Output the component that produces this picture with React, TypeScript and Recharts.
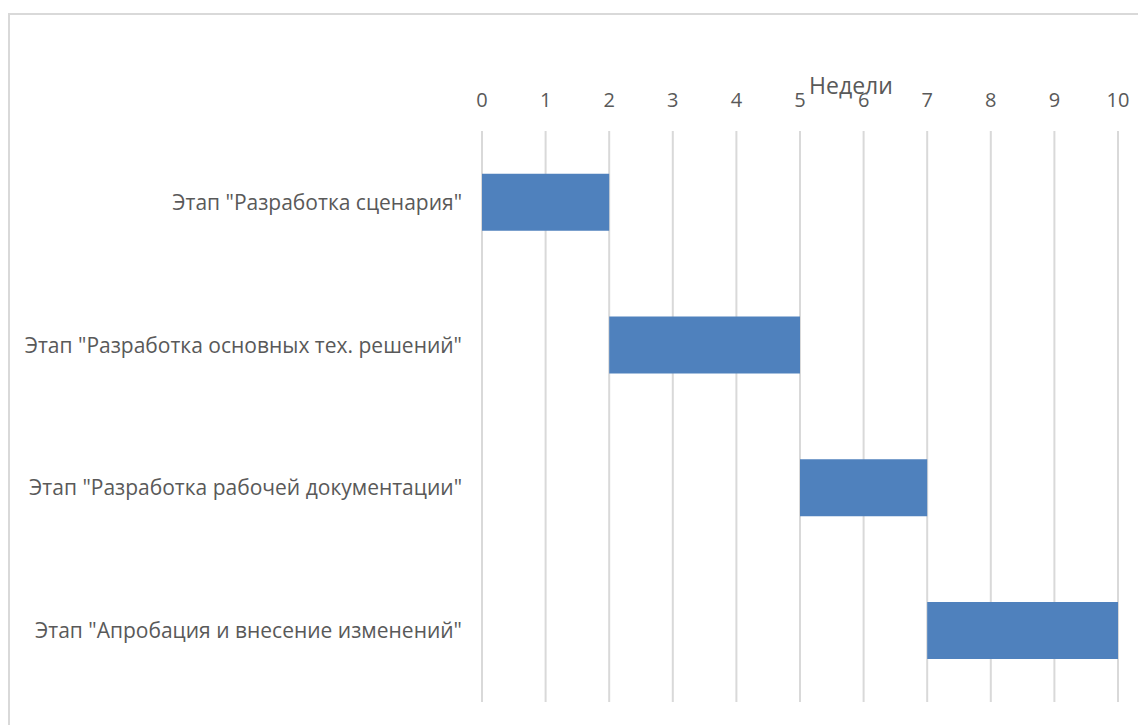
import React from 'react';
import { BarChart, Bar, XAxis, YAxis, CartesianGrid } from 'recharts';

const STAGES = [
  'Этап "Разработка сценария"',
  'Этап "Разработка основных тех. решений"',
  'Этап "Разработка рабочей документации"',
  'Этап "Апробация и внесение изменений"',
];
const START_WEEK = [0, 2, 5, 7];
const DURATION = [2, 3, 2, 3];
const WEEK_TICKS = [0, 1, 2, 3, 4, 5, 6, 7, 8, 9, 10];

const data = STAGES.map((name, i) => ({ name, start: START_WEEK[i], duration: DURATION[i] }));

const FONT = '"Open Sans", "Noto Sans", sans-serif';

export default function App() {
  return (
    <div
      style={{
        position: 'relative',
        width: 1160,
        height: 740,
        marginTop: 5,
        border: '2px solid #d9d9d9',
        background: '#fff',
        fontFamily: FONT,
      }}
    >
      <div
        style={{
          position: 'absolute',
          left: 841 - 70,
          top: 70 - 17,
          width: 140,
          textAlign: 'center',
          fontSize: 23,
          color: '#595959',
          lineHeight: '34px',
          zIndex: 2,
        }}
      >
        Недели
      </div>
      <BarChart
        width={1146}
        height={720}
        data={data}
        layout="vertical"
        barCategoryGap="30%"
        margin={{ top: 86, right: 38, bottom: 33, left: 4 }}
      >
        <CartesianGrid horizontal={false} stroke="#d9d9d9" strokeWidth={2} />
        <XAxis
          type="number"
          orientation="top"
          domain={[0, 10]}
          ticks={WEEK_TICKS}
          interval={0}
          height={30}
          axisLine={false}
          tickLine={false}
          tickSize={0}
          tickMargin={24}
          tick={{ fontSize: 20, fill: '#595959', fontFamily: FONT }}
        />
        <YAxis
          type="category"
          dataKey="name"
          width={468}
          axisLine={false}
          tickLine={false}
          tickSize={0}
          tickMargin={20}
          tick={{ fontSize: 21, fill: '#595959', fontFamily: FONT }}
        />
        <Bar dataKey="start" stackId="g" fill="transparent" isAnimationActive={false} />
        <Bar dataKey="duration" stackId="g" fill="#4f81bd" isAnimationActive={false} />
      </BarChart>
    </div>
  );
}
